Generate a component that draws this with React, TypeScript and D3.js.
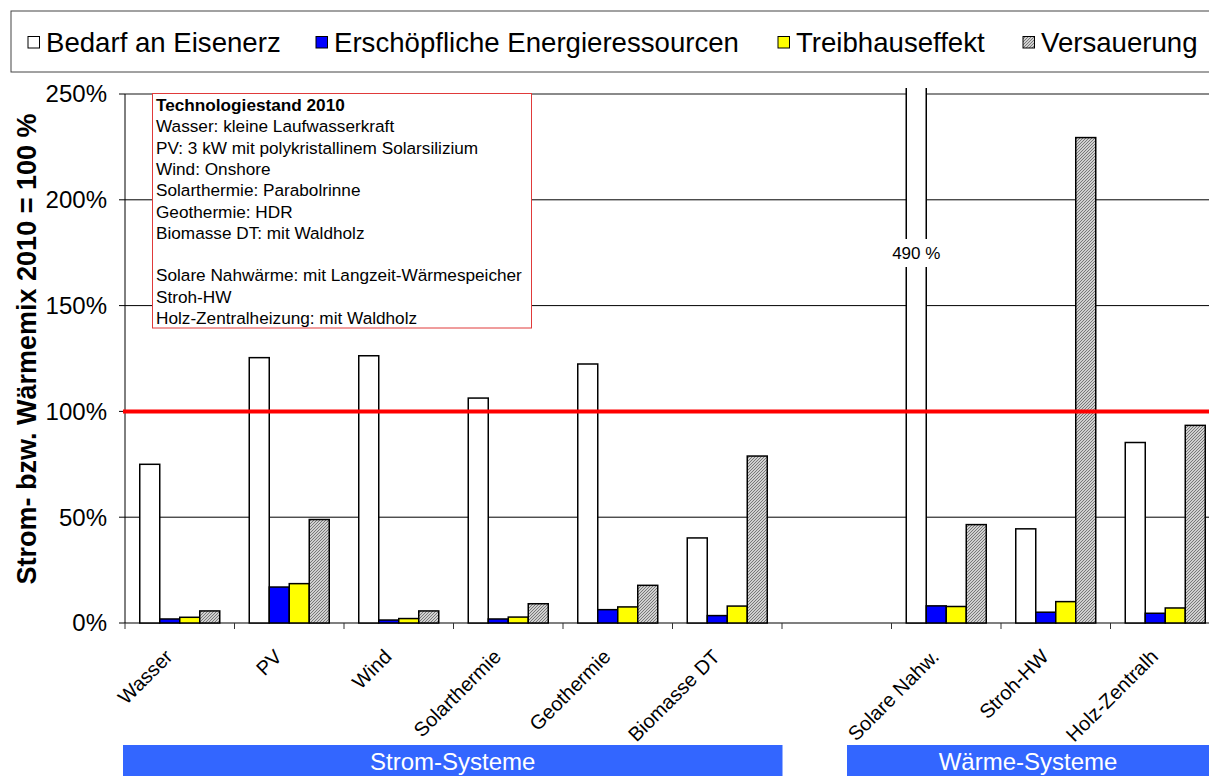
import React from "react";
import * as d3 from "d3";

const categories = ["Wasser", "PV", "Wind", "Solarthermie", "Geothermie", "Biomasse DT", "", "Solare Nahw.", "Stroh-HW", "Holz-Zentralh"];
const seriesNames = ["Bedarf an Eisenerz", "Erschöpfliche Energieressourcen", "Treibhauseffekt", "Versauerung"];
const eisenerz: (number | null)[] = [75, 125.4, 126.3, 106.3, 122.4, 40.2, null, 490, 44.5, 85.3];
const energie: (number | null)[] = [1.9, 17.0, 1.4, 1.9, 6.3, 3.5, null, 8.1, 5.1, 4.6];
const treibhaus: (number | null)[] = [2.7, 18.6, 2.1, 2.8, 7.6, 8.0, null, 7.8, 10.1, 7.1];
const versauerung: (number | null)[] = [5.7, 48.9, 5.7, 9.1, 17.8, 78.9, null, 46.5, 229.4, 93.4];
const seriesValues = [eisenerz, energie, treibhaus, versauerung];
const yTicks = [0, 50, 100, 150, 200, 250];
const referenceLine = 100;
const yTitle = "Strom- bzw. Wärmemix 2010 = 100 %";
const noteTitle = "Technologiestand 2010";
const noteLines = [
  "Wasser: kleine Laufwasserkraft",
  "PV: 3 kW mit polykristallinem Solarsilizium",
  "Wind: Onshore",
  "Solarthermie: Parabolrinne",
  "Geothermie: HDR",
  "Biomasse DT: mit Waldholz",
  "",
  "Solare Nahwärme: mit Langzeit-Wärmespeicher",
  "Stroh-HW",
  "Holz-Zentralheizung: mit Waldholz",
];
const groupLabels = ["Strom-Systeme", "Wärme-Systeme"];

const W = 1209;
const H = 776;
const FONT = "Liberation Sans, Arial, sans-serif";
const fills = ["#ffffff", "#0000ff", "#ffff00", "url(#hatch)"];

export default function App() {
  const y = d3.scaleLinear().domain([0, 250]).range([623, 94]);
  const x = d3.scaleBand<number>().domain(d3.range(categories.length)).range([125, 1220]).padding(0);
  const xs = d3.scaleBand<string>().domain(seriesNames).range([0, x.bandwidth()]).paddingInner(0).paddingOuter(0.7375);
  const plotTop = 88;
  const x0 = 125;

  const legendX = [28, 316, 778, 1023];
  const groupRects = [
    { x0: 123, x1: 782.5 },
    { x0: 847, x1: 1209 },
  ];

  const bars: JSX.Element[] = [];
  const breaks: JSX.Element[] = [];
  categories.forEach((c, i) => {
    seriesNames.forEach((s, j) => {
      const v = seriesValues[j][i];
      if (v === null || v === undefined) return;
      const bx = (x(i) as number) + (xs(s) as number);
      const bw = xs.bandwidth();
      if (v > 250) {
        const top = plotTop;
        const cx = bx + bw / 2;
        bars.push(
          <g key={`b${i}-${j}`}>
            <rect x={bx} y={top} width={bw} height={y(0) - top} fill={fills[j]} />
            <path d={`M${bx},${top}V${y(0)}H${bx + bw}V${top}`} fill="none" stroke="#000" strokeWidth={1.5} />
          </g>
        );
        breaks.push(
          <g key={`br${i}-${j}`}>
            <rect x={cx - 27} y={239} width={54} height={28} fill="#fff" />
            <text x={cx} y={253} dy="0.35em" textAnchor="middle" fontSize={17} fill="#000">
              {`${v} %`}
            </text>
          </g>
        );
        return;
      }
      const top = y(v);
      bars.push(
        <rect key={`b${i}-${j}`} x={bx} y={top} width={bw} height={y(0) - top} fill={fills[j]} stroke="#000" strokeWidth={1.5} />
      );
    });
  });

  return (
    <svg width={W} height={H} style={{ position: "fixed", left: 0, top: 0, background: "#fff" }} fontFamily={FONT}>
      <defs>
        <pattern id="hatch" patternUnits="userSpaceOnUse" width={3} height={3}>
          <rect width={3} height={3} fill="#d0d0d0" />
          <path d="M0,3 L3,0 M-1,1 L1,-1 M2,4 L4,2" stroke="#6e6e6e" strokeWidth={0.9} />
        </pattern>
      </defs>
      <rect x={0} y={0} width={W} height={H} fill="#fff" />

      {/* legend */}
      <rect x={11} y={11} width={1210} height={61} fill="#fff" stroke="#444" strokeWidth={1} />
      {seriesNames.map((s, j) => (
        <g key={s}>
          <rect x={legendX[j]} y={36.5} width={11.5} height={11.5} fill={fills[j]} stroke="#000" strokeWidth={1} />
          <text x={legendX[j] + 18} y={52} fontSize={27.6} fill="#000">
            {s}
          </text>
        </g>
      ))}

      {/* gridlines */}
      {yTicks.map((t) => (
        <line key={`g${t}`} x1={x0} x2={W} y1={y(t)} y2={y(t)} stroke={t === 250 ? "#8a8a8a" : t === 0 ? "#555" : "#000"} strokeWidth={t === 250 ? 2 : t === 0 ? 1.5 : 1} />
      ))}

      {/* y axis */}
      <line x1={x0} x2={x0} y1={y(250)} y2={y(0)} stroke="#000" strokeWidth={1} />
      {yTicks.map((t) => (
        <g key={`t${t}`}>
          <line x1={x0 - 6} x2={x0} y1={y(t)} y2={y(t)} stroke="#000" strokeWidth={1} />
          <text x={107} y={y(t)} dy="0.35em" textAnchor="end" fontSize={24} fill="#000">
            {`${t}%`}
          </text>
        </g>
      ))}
      <text transform={`translate(36,${349}) rotate(-90)`} textAnchor="middle" fontSize={27} fontWeight="bold" fill="#000">
        {yTitle}
      </text>

      {/* x ticks */}
      {d3.range(categories.length + 1).map((i) => {
        const xx = i < categories.length ? (x(i) as number) : 1220;
        return <line key={`xt${i}`} x1={xx} x2={xx} y1={y(0)} y2={y(0) + 6} stroke="#333" strokeWidth={1} />;
      })}

      {bars}

      {/* reference line */}
      <line x1={x0 - 2} x2={W} y1={y(referenceLine)} y2={y(referenceLine)} stroke="#ff0000" strokeWidth={4} />

      {breaks}

      {/* note box */}
      <rect x={152.5} y={93.5} width={379} height={234.5} fill="#fff" stroke="#e03a3a" strokeWidth={1} />
      <text x={156} y={111} fontSize={17.2} fontWeight="bold" fill="#000">
        {noteTitle}
      </text>
      {noteLines.map((l, k) => (
        <text key={`n${k}`} x={156} y={111 + (k + 1) * 21.3} fontSize={17.2} fill="#000">
          {l}
        </text>
      ))}

      {/* x labels */}
      {categories.map((c, i) => {
        const cx = (x(i) as number) + x.bandwidth() / 2;
        return (
          <text key={`xl${i}`} transform={`translate(${cx - 6},${658}) rotate(-45)`} textAnchor="end" fontSize={20} fill="#000">
            {c}
          </text>
        );
      })}

      {/* group bands */}
      {groupLabels.map((g, k) => (
        <g key={g}>
          <rect x={groupRects[k].x0} y={745} width={groupRects[k].x1 - groupRects[k].x0} height={32} fill="#3366ff" />
          <text x={(groupRects[k].x0 + groupRects[k].x1) / 2} y={770} textAnchor="middle" fontSize={24} fill="#fff">
            {g}
          </text>
        </g>
      ))}
    </svg>
  );
}
